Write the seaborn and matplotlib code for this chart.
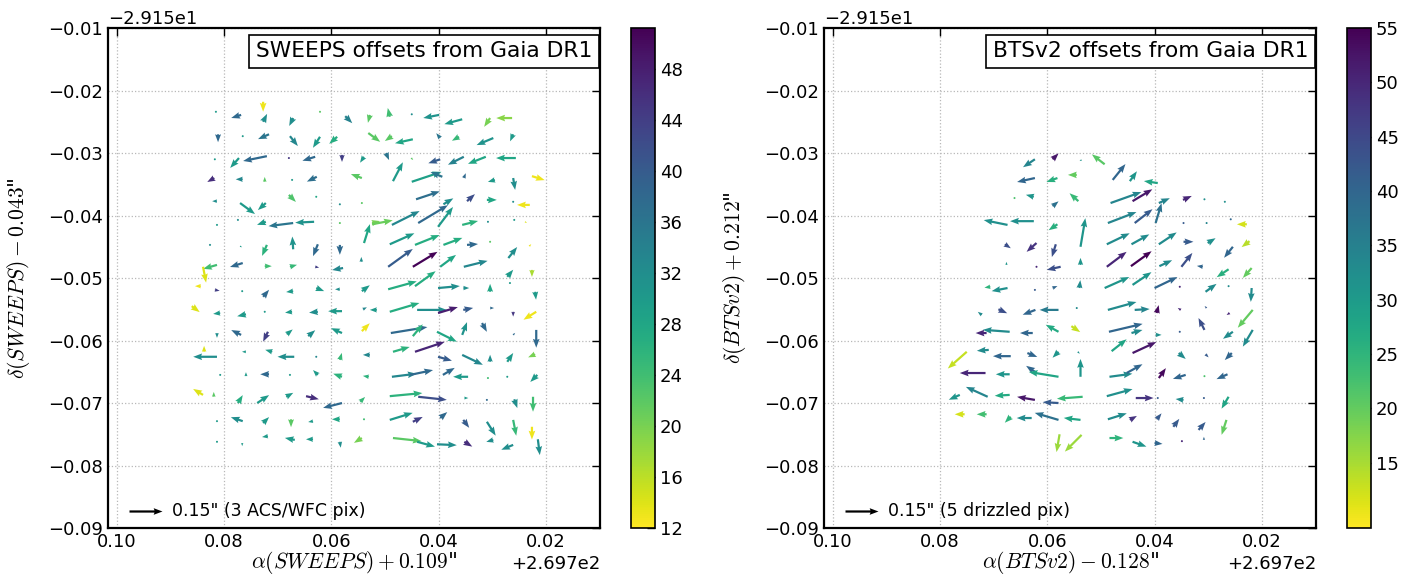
import numpy as np
import matplotlib
matplotlib.use("Agg")
import matplotlib.pyplot as plt
from matplotlib.ticker import ScalarFormatter, MultipleLocator
import seaborn as sns

# reference point of the offsets on the axes (deg)
RA0 = 269.7
DEC0 = -29.15

# ---- SWEEPS vs Gaia DR1 (ra/dec offsets from RA0/DEC0 in deg, u/v in mas, c = colour value)
sw_ra = [0.0727, 0.0815, 0.0768, 0.0727, 0.0621, 0.0671, 0.0574, 0.0528, 0.0811, 0.0765,
         0.0716, 0.0677, 0.0621, 0.0589, 0.0531, 0.0817, 0.0772, 0.0720, 0.0679, 0.0630,
         0.0580, 0.0539, 0.0818, 0.0765, 0.0724, 0.0673, 0.0627, 0.0543, 0.0813, 0.0679,
         0.0628, 0.0584, 0.0543, 0.0770, 0.0722, 0.0813, 0.0774, 0.0722, 0.0671, 0.0632,
         0.0584, 0.0539, 0.0524, 0.0826, 0.0770, 0.0720, 0.0671, 0.0625, 0.0584, 0.0544,
         0.0813, 0.0765, 0.0724, 0.0677, 0.0630, 0.0578, 0.0491, 0.0450, 0.0399, 0.0356,
         0.0304, 0.0263, 0.0487, 0.0448, 0.0397, 0.0362, 0.0298, 0.0261, 0.0498, 0.0451,
         0.0397, 0.0353, 0.0312, 0.0256, 0.0485, 0.0450, 0.0393, 0.0353, 0.0295, 0.0261,
         0.0226, 0.0442, 0.0391, 0.0347, 0.0310, 0.0261, 0.0230, 0.0524, 0.0487, 0.0438,
         0.0401, 0.0356, 0.0308, 0.0259, 0.0239, 0.0491, 0.0444, 0.0391, 0.0347, 0.0304,
         0.0231, 0.0270, 0.0494, 0.0448, 0.0397, 0.0353, 0.0839, 0.0843, 0.0817, 0.0766,
         0.0727, 0.0671, 0.0628, 0.0584, 0.0543, 0.0860, 0.0807, 0.0759, 0.0724, 0.0673,
         0.0625, 0.0580, 0.0541, 0.0813, 0.0768, 0.0718, 0.0683, 0.0643, 0.0580, 0.0543,
         0.0837, 0.0813, 0.0759, 0.0710, 0.0669, 0.0628, 0.0584, 0.0528, 0.0807, 0.0759,
         0.0716, 0.0677, 0.0625, 0.0580, 0.0530, 0.0839, 0.0819, 0.0774, 0.0738, 0.0684,
         0.0647, 0.0580, 0.0546, 0.0813, 0.0765, 0.0727, 0.0675, 0.0634, 0.0584, 0.0539,
         0.0813, 0.0766, 0.0718, 0.0668, 0.0634, 0.0584, 0.0543, 0.0272, 0.0226, 0.0494,
         0.0444, 0.0401, 0.0354, 0.0304, 0.0267, 0.0220, 0.0515, 0.0491, 0.0440, 0.0401,
         0.0354, 0.0304, 0.0261, 0.0218, 0.0489, 0.0448, 0.0403, 0.0356, 0.0319, 0.0261,
         0.0218, 0.0485, 0.0444, 0.0401, 0.0356, 0.0304, 0.0272, 0.0220, 0.0487, 0.0453,
         0.0392, 0.0345, 0.0308, 0.0272, 0.0216, 0.0491, 0.0438, 0.0352, 0.0310, 0.0259,
         0.0224, 0.0491, 0.0448, 0.0397, 0.0354, 0.0310, 0.0261, 0.0226, 0.0485, 0.0440,
         0.0403, 0.0352, 0.0298, 0.0261, 0.0215]
sw_dec = [-0.0218, -0.0234, -0.0239, -0.0250, -0.0234, -0.0244, -0.0241, -0.0239, -0.0270, -0.0273,
          -0.0270, -0.0273, -0.0274, -0.0274, -0.0268, -0.0310, -0.0308, -0.0305, -0.0308, -0.0306,
          -0.0303, -0.0306, -0.0340, -0.0342, -0.0346, -0.0343, -0.0338, -0.0340, -0.0377, -0.0367,
          -0.0370, -0.0382, -0.0380, -0.0380, -0.0380, -0.0415, -0.0407, -0.0410, -0.0412, -0.0410,
          -0.0412, -0.0444, -0.0412, -0.0447, -0.0449, -0.0447, -0.0454, -0.0446, -0.0447, -0.0474,
          -0.0479, -0.0476, -0.0481, -0.0482, -0.0482, -0.0484, -0.0242, -0.0238, -0.0239, -0.0246,
          -0.0244, -0.0244, -0.0273, -0.0278, -0.0276, -0.0274, -0.0276, -0.0270, -0.0300, -0.0308,
          -0.0310, -0.0306, -0.0306, -0.0308, -0.0345, -0.0346, -0.0338, -0.0340, -0.0343, -0.0340,
          -0.0337, -0.0374, -0.0382, -0.0377, -0.0375, -0.0378, -0.0383, -0.0414, -0.0415, -0.0412,
          -0.0418, -0.0415, -0.0410, -0.0407, -0.0410, -0.0446, -0.0447, -0.0447, -0.0447, -0.0442,
          -0.0449, -0.0468, -0.0482, -0.0482, -0.0482, -0.0482, -0.0482, -0.0513, -0.0519, -0.0521,
          -0.0530, -0.0521, -0.0516, -0.0518, -0.0521, -0.0545, -0.0556, -0.0558, -0.0554, -0.0554,
          -0.0554, -0.0553, -0.0550, -0.0588, -0.0591, -0.0586, -0.0590, -0.0593, -0.0588, -0.0585,
          -0.0618, -0.0626, -0.0618, -0.0618, -0.0626, -0.0626, -0.0631, -0.0623, -0.0655, -0.0657,
          -0.0654, -0.0655, -0.0655, -0.0658, -0.0658, -0.0687, -0.0690, -0.0700, -0.0700, -0.0690,
          -0.0689, -0.0700, -0.0698, -0.0729, -0.0729, -0.0732, -0.0726, -0.0729, -0.0726, -0.0726,
          -0.0762, -0.0764, -0.0753, -0.0759, -0.0758, -0.0762, -0.0756, -0.0498, -0.0487, -0.0518,
          -0.0513, -0.0516, -0.0516, -0.0522, -0.0508, -0.0522, -0.0551, -0.0554, -0.0551, -0.0556,
          -0.0551, -0.0548, -0.0554, -0.0554, -0.0588, -0.0593, -0.0586, -0.0591, -0.0572, -0.0591,
          -0.0583, -0.0618, -0.0618, -0.0626, -0.0623, -0.0634, -0.0634, -0.0622, -0.0658, -0.0655,
          -0.0655, -0.0658, -0.0660, -0.0658, -0.0655, -0.0689, -0.0690, -0.0692, -0.0695, -0.0694,
          -0.0690, -0.0727, -0.0730, -0.0724, -0.0727, -0.0730, -0.0727, -0.0738, -0.0756, -0.0762,
          -0.0766, -0.0762, -0.0759, -0.0767, -0.0758]
sw_u = [0, 4, -45, 18, 4, -18, 32, -9, 0, 4,
        -50, 36, -32, -36, 54, 4, -40, -108, -5, -58,
        0, -18, -32, -32, 0, 4, -45, -50, -22, 32,
        4, -4, -4, 68, -36, 4, 4, -40, -112, -86,
        -9, 27, 36, -5, 9, -22, -4, -22, 0, 0,
        -63, -58, 32, 32, 18, -50, -9, 4, -72, -81,
        -27, -72, -32, -81, -18, -32, -76, -14, 14, 9,
        -54, -72, -81, -90, 45, 135, -54, 9, -32, 9,
        58, 108, 45, 36, 45, 4, -58, 94, 126, 135,
        68, 72, 0, -5, 9, 112, 112, 86, 50, 0,
        9, 40, 112, 112, 72, 108, 14, -27, 22, 4,
        27, -32, 36, -22, 36, 36, -32, -40, 4, -32,
        -40, -63, 18, 0, -45, -22, 27, 32, -50, 36,
        0, -108, -18, -32, -76, 4, 9, -32, 4, 0,
        -40, -4, -22, -40, -27, -45, 0, 22, 54, 32,
        58, -86, 22, -9, -54, 27, 0, -22, -36, 4,
        0, 0, -27, -45, -32, 4, -36, 27, 0, 130,
        94, 99, 27, 0, 4, 4, -32, 135, 135, 90,
        45, 18, 0, -58, 166, 45, 90, 22, 22, 9,
        0, 76, 135, 63, 94, 0, 27, -32, 112, 104,
        54, -68, 4, 4, -32, 148, 130, 18, 5, 14,
        0, 104, 45, 32, 27, 40, 14, 0, 130, 81,
        90, 36, -32, -54, 9]
sw_v = [-45, 0, -14, 36, 4, -36, -32, -36, -36, 0,
        -22, -45, -50, -32, -40, 4, -45, -22, 0, -18,
        -32, -27, -18, 0, 22, 0, -22, 18, 0, -32,
        0, 0, 4, -50, -32, 0, 4, -14, -14, -4,
        0, 86, 9, 0, -5, -50, 58, -54, -45, 22,
        -18, -18, 0, 9, -4, -9, 40, 4, -14, -22,
        -40, 0, -22, -18, 22, -18, -32, -32, -32, -9,
        -18, -36, -32, 0, 86, 45, 22, 22, -9, -54,
        -18, 36, 27, 32, 0, 0, 0, 18, 63, 81,
        90, 18, 9, 5, -5, 50, 45, 32, 4, 4,
        9, 50, 81, 68, 54, 27, -72, 0, -4, 0,
        32, -4, -14, 0, 27, -27, -4, -9, 0, -4,
        -4, 0, 9, -22, 22, -45, 22, 27, 22, 36,
        27, 0, 0, 9, 0, -4, 32, 0, 0, 18,
        0, 0, 22, 14, 4, 27, 22, 36, 36, 18,
        -14, -22, 22, 0, 18, 27, -36, -4, 0, 4,
        -4, -14, -4, 9, 0, -27, -22, 32, -32, 36,
        68, 9, 0, 36, 0, -36, 0, 40, 0, 27,
        9, 0, -22, -36, 27, 54, -45, 58, -40, 9,
        -81, 22, 45, -18, -45, 32, 40, -14, 14, 22,
        32, 0, 0, 0, -32, 14, -14, 0, 0, -40,
        -68, 32, 22, 27, -36, -63, -72, -58, -14, -22,
        -4, -22, -9, -22, -72]
sw_c = [13, 30, 38, 32, 22, 32, 34, 22, 38, 30,
        36, 33, 30, 27, 22, 30, 30, 38, 45, 38,
        44, 30, 46, 33, 22, 30, 37, 22, 32, 23,
        28, 32, 22, 30, 30, 30, 32, 30, 36, 31,
        22, 28, 20, 32, 30, 26, 31, 38, 38, 32,
        24, 38, 24, 25, 44, 33, 24, 32, 31, 30,
        20, 19, 22, 28, 36, 25, 31, 30, 36, 22,
        40, 34, 28, 28, 30, 29, 36, 38, 30, 32,
        13, 37, 32, 42, 28, 32, 13, 21, 33, 38,
        30, 26, 32, 30, 14, 30, 27, 27, 38, 22,
        13, 32, 40, 51, 28, 33, 14, 13, 44, 30,
        38, 30, 30, 32, 30, 14, 30, 30, 30, 30,
        32, 30, 33, 32, 38, 44, 30, 32, 30, 13,
        14, 32, 30, 30, 32, 33, 25, 33, 30, 30,
        38, 30, 30, 26, 26, 14, 22, 27, 30, 30,
        46, 38, 25, 30, 32, 30, 22, 30, 28, 24,
        30, 30, 30, 30, 30, 32, 20, 30, 17, 27,
        27, 32, 32, 28, 30, 30, 30, 27, 32, 48,
        40, 38, 45, 13, 38, 26, 28, 31, 38, 38,
        38, 26, 47, 40, 33, 32, 30, 20, 33, 38,
        38, 30, 24, 30, 30, 26, 42, 30, 38, 32,
        24, 30, 44, 38, 40, 32, 25, 13, 22, 30,
        32, 46, 32, 32, 32]

# ---- BTSv2 vs Gaia DR1
bt_ra = [0.0590, 0.0536, 0.0493, 0.0623, 0.0623, 0.0581, 0.0545, 0.0661, 0.0625, 0.0590,
         0.0542, 0.0674, 0.0625, 0.0581, 0.0538, 0.0679, 0.0620, 0.0584, 0.0676, 0.0620,
         0.0575, 0.0538, 0.0706, 0.0674, 0.0623, 0.0590, 0.0540, 0.0478, 0.0446, 0.0394,
         0.0482, 0.0441, 0.0392, 0.0347, 0.0307, 0.0269, 0.0398, 0.0487, 0.0437, 0.0346,
         0.0303, 0.0258, 0.0228, 0.0489, 0.0443, 0.0392, 0.0346, 0.0301, 0.0223, 0.0254,
         0.0489, 0.0444, 0.0391, 0.0350, 0.0310, 0.0262, 0.0219, 0.0493, 0.0441, 0.0400,
         0.0353, 0.0305, 0.0262, 0.0219, 0.0722, 0.0691, 0.0622, 0.0579, 0.0545, 0.0487,
         0.0437, 0.0396, 0.0351, 0.0303, 0.0260, 0.0307, 0.0217, 0.0713, 0.0670, 0.0627,
         0.0579, 0.0555, 0.0485, 0.0443, 0.0398, 0.0353, 0.0254, 0.0217, 0.0750, 0.0709,
         0.0668, 0.0637, 0.0579, 0.0543, 0.0480, 0.0441, 0.0355, 0.0305, 0.0256, 0.0715,
         0.0670, 0.0623, 0.0579, 0.0538, 0.0484, 0.0452, 0.0392, 0.0342, 0.0307, 0.0264,
         0.0763, 0.0711, 0.0670, 0.0623, 0.0579, 0.0534, 0.0489, 0.0435, 0.0394, 0.0346,
         0.0308, 0.0262, 0.0754, 0.0713, 0.0668, 0.0629, 0.0579, 0.0538, 0.0487, 0.0446,
         0.0396, 0.0365, 0.0318, 0.0266, 0.0577, 0.0536, 0.0484, 0.0441, 0.0400, 0.0349,
         0.0308]
bt_dec = [-0.0310, -0.0311, -0.0318, -0.0310, -0.0340, -0.0340, -0.0335, -0.0372, -0.0370, -0.0385,
          -0.0377, -0.0415, -0.0409, -0.0414, -0.0450, -0.0446, -0.0444, -0.0446, -0.0479, -0.0482,
          -0.0482, -0.0479, -0.0514, -0.0516, -0.0519, -0.0516, -0.0516, -0.0343, -0.0345, -0.0348,
          -0.0380, -0.0377, -0.0380, -0.0375, -0.0374, -0.0378, -0.0412, -0.0412, -0.0412, -0.0412,
          -0.0412, -0.0406, -0.0414, -0.0446, -0.0446, -0.0446, -0.0442, -0.0444, -0.0441, -0.0450,
          -0.0482, -0.0481, -0.0481, -0.0482, -0.0482, -0.0486, -0.0484, -0.0516, -0.0511, -0.0516,
          -0.0514, -0.0522, -0.0513, -0.0516, -0.0559, -0.0550, -0.0551, -0.0551, -0.0548, -0.0551,
          -0.0551, -0.0556, -0.0551, -0.0548, -0.0556, -0.0583, -0.0551, -0.0588, -0.0586, -0.0588,
          -0.0586, -0.0577, -0.0586, -0.0588, -0.0591, -0.0586, -0.0586, -0.0583, -0.0618, -0.0615,
          -0.0625, -0.0620, -0.0618, -0.0618, -0.0617, -0.0620, -0.0620, -0.0622, -0.0620, -0.0652,
          -0.0654, -0.0650, -0.0658, -0.0658, -0.0658, -0.0652, -0.0660, -0.0655, -0.0657, -0.0654,
          -0.0687, -0.0690, -0.0687, -0.0695, -0.0700, -0.0690, -0.0689, -0.0692, -0.0692, -0.0695,
          -0.0692, -0.0690, -0.0718, -0.0718, -0.0722, -0.0724, -0.0727, -0.0727, -0.0726, -0.0727,
          -0.0726, -0.0738, -0.0743, -0.0727, -0.0750, -0.0751, -0.0756, -0.0762, -0.0764, -0.0761,
          -0.0759]
bt_u = [27, -9, -58, -54, -81, -50, -40, -5, -36, 27,
        -40, -108, -108, -40, 22, 27, -45, -18, 0, 9,
        -63, 0, -27, -72, 4, 22, 4, 58, 32, -63,
        140, 90, 50, 40, 5, 4, 27, 130, 81, -9,
        4, 4, -45, 104, 81, 81, 45, 36, -36, -40,
        90, 94, 58, 50, -27, -54, -40, 112, 86, 104,
        9, 50, 9, -4, -18, 40, -58, -86, 4, 130,
        68, 9, -14, -9, -14, -27, -68, -50, -122, -58,
        -58, 40, 153, 50, 27, 0, -45, -45, -86, -54,
        -81, 45, -27, 9, 68, 108, 32, 14, -32, -117,
        -63, -40, -135, 0, 104, 72, 32, -58, 4, -50,
        -50, -99, -68, -81, -72, -117, 117, 81, 9, -36,
        -9, -32, -45, -45, -27, -68, -108, -76, 86, 32,
        22, 27, 32, -22, -14, -76, 63, 63, 36, 4,
        0]
bt_v = [27, -5, 45, -36, -18, -18, 0, 4, 9, 22,
        36, 22, 0, -27, 130, -18, -40, -58, 14, 4,
        -14, 32, -4, -14, 0, 9, 36, 72, 45, 9,
        50, 54, 22, 18, 0, 0, 90, 50, 63, 4,
        0, 5, 0, 50, 45, 54, 0, 22, -27, -50,
        68, 68, 27, 63, 4, -36, -45, 50, 58, 50,
        0, 36, -4, -63, 14, -18, -22, 0, 0, 36,
        4, 36, 9, 9, -9, 54, -81, 0, 9, 0,
        32, -27, 36, 14, 0, 9, -32, -76, -76, -4,
        0, -18, -27, -9, 54, 50, -27, -14, -32, 0,
        0, 27, 22, 81, 14, 40, 45, -18, 0, -22,
        -22, 45, -4, 14, 4, -9, 32, 0, 4, 4,
        0, -54, 0, 0, -27, 0, 32, 9, 27, 18,
        27, 36, 36, -68, -81, -76, 0, -22, -4, 0,
        14]
bt_c = [52, 31, 21, 34, 40, 26, 20, 22, 31, 38,
        24, 32, 32, 26, 31, 44, 48, 44, 31, 50,
        44, 31, 25, 32, 42, 40, 33, 40, 31, 28,
        34, 52, 34, 50, 32, 32, 38, 34, 42, 42,
        34, 40, 12, 33, 33, 33, 42, 32, 14, 40,
        50, 55, 33, 44, 40, 26, 20, 31, 31, 40,
        50, 33, 33, 33, 33, 44, 40, 36, 33, 33,
        34, 54, 50, 42, 50, 44, 20, 50, 33, 40,
        27, 13, 40, 33, 32, 42, 33, 33, 13, 33,
        40, 40, 31, 32, 28, 52, 33, 42, 40, 50,
        31, 40, 28, 31, 33, 40, 54, 40, 22, 40,
        31, 34, 27, 52, 42, 24, 32, 48, 42, 33,
        42, 28, 12, 23, 25, 33, 38, 28, 33, 48,
        42, 42, 42, 20, 16, 16, 25, 31, 40, 50,
        40]

panels = [
    dict(ra=sw_ra, dec=sw_dec, u=sw_u, v=sw_v, c=sw_c, clim=(12, 51.2),
         cticks=[12, 16, 20, 24, 28, 32, 36, 40, 44, 48],
         title="SWEEPS offsets from Gaia DR1", key='0.15" (3 ACS/WFC pix)',
         xlabel=r'$\alpha(SWEEPS)+0.109$"', ylabel=r'$\delta(SWEEPS)-0.043$"'),
    dict(ra=bt_ra, dec=bt_dec, u=bt_u, v=bt_v, c=bt_c, clim=(9, 55),
         cticks=[15, 20, 25, 30, 35, 40, 45, 50, 55],
         title="BTSv2 offsets from Gaia DR1", key='0.15" (5 drizzled pix)',
         xlabel=r'$\alpha(BTSv2)-0.128$"', ylabel=r'$\delta(BTSv2)+0.212$"'),
]

sns.set_theme(style="white")
plt.rcParams.update({
    "font.family": ["DejaVu Sans"],
    "mathtext.fontset": "cm",
    "text.color": "black",
    "axes.labelcolor": "black",
    "axes.edgecolor": "black",
    "axes.linewidth": 1.6,
    "xtick.color": "black",
    "ytick.color": "black",
    "xtick.direction": "in",
    "ytick.direction": "in",
    "xtick.top": True,
    "ytick.right": True,
    "xtick.major.size": 6,
    "ytick.major.size": 6,
    "xtick.major.width": 1,
    "ytick.major.width": 1,
    "xtick.labelsize": 13,
    "ytick.labelsize": 13,
})

cmap = sns.color_palette("viridis_r", as_cmap=True)

fig = plt.figure(figsize=(14.2, 5.83), dpi=100)
ax_rects = [[0.0761, 0.0943, 0.3465, 0.8576], [0.5803, 0.0943, 0.3465, 0.8576]]
cb_rects = [[0.4444, 0.0943, 0.0169, 0.8576], [0.9486, 0.0943, 0.0169, 0.8576]]

for p, arect, crect in zip(panels, ax_rects, cb_rects):
    ax = fig.add_axes(arect)
    x = RA0 + np.array(p["ra"])
    y = DEC0 + np.array(p["dec"])
    q = ax.quiver(x, y, p["u"], p["v"], p["c"], cmap=cmap, clim=p["clim"],
                  scale=150 / 0.33, scale_units="inches", width=0.0045,
                  headwidth=3.0, headlength=4.0, headaxislength=3.6, zorder=3)
    ax.quiverkey(q, 0.11, 0.034, 150, p["key"], labelpos="E", coordinates="axes",
                 color="black", labelsep=0.1, fontproperties={"size": 12.5})

    ax.set_xlim(RA0 + 0.1016, RA0 + 0.0099)
    ax.set_ylim(DEC0 - 0.09, DEC0 - 0.01)
    ax.xaxis.set_major_locator(MultipleLocator(0.02))
    ax.yaxis.set_major_locator(MultipleLocator(0.01))
    ax.xaxis.set_major_formatter(ScalarFormatter(useOffset=RA0))
    ax.yaxis.set_major_formatter(ScalarFormatter(useOffset=DEC0))
    ax.grid(True, linestyle=":", color="0.72", linewidth=0.9)
    ax.set_axisbelow(True)

    ax.set_xlabel(p["xlabel"], fontsize=15.5, labelpad=-1)
    ax.set_ylabel(p["ylabel"], fontsize=15.5, labelpad=12)
    ax.text(0.984, 0.974, p["title"], transform=ax.transAxes, ha="right", va="top",
            fontsize=15.7, zorder=5,
            bbox=dict(boxstyle="square,pad=0.3", facecolor="white", edgecolor="black", linewidth=1.2))

    cax = fig.add_axes(crect)
    cb = fig.colorbar(q, cax=cax, ticks=p["cticks"])
    cb.outline.set_linewidth(1.2)
    cb.outline.set_edgecolor("black")
    cax.tick_params(direction="in", length=6, labelsize=13, color="black")

fig.savefig("out.png", dpi=100)
